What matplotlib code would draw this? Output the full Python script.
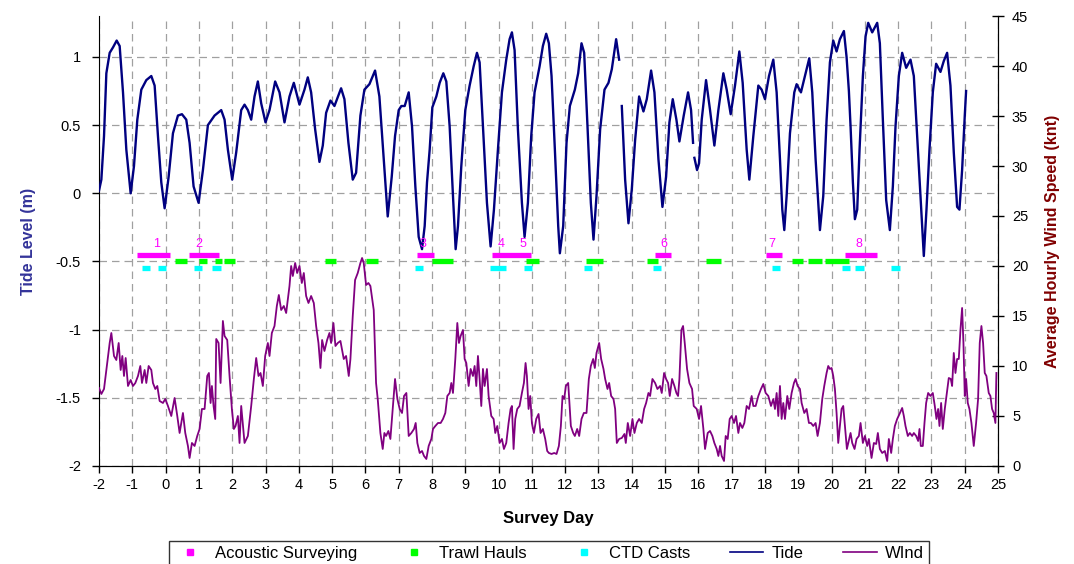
import numpy as np
import matplotlib
matplotlib.use('Agg')
import matplotlib.pyplot as plt
from matplotlib.lines import Line2D
from matplotlib.ticker import FuncFormatter

plt.rcParams['font.family'] = ['Liberation Sans', 'DejaVu Sans']
plt.rcParams['axes.unicode_minus'] = False

# tide level (m)
tide_day = [-2.0, -1.93, -1.85, -1.78, -1.68, -1.58, -1.47, -1.38, -1.28, -1.18, -1.05, -0.95, -0.85, -0.73,
            -0.58, -0.43, -0.33, -0.23, -0.13, -0.03, 0.09, 0.22, 0.37, 0.49, 0.62, 0.72, 0.84, 0.99, 1.12,
            1.27, 1.47, 1.67, 1.77, 1.87, 2.00, 2.12, 2.27, 2.37, 2.47, 2.57, 2.67, 2.77, 2.87, 3.00, 3.12,
            3.29, 3.42, 3.57, 3.72, 3.85, 4.02, 4.17, 4.27, 4.37, 4.49, 4.62, 4.72, 4.82, 4.95, 5.07, 5.27,
            5.37, 5.49, 5.62, 5.72, 5.85, 5.97, 6.12, 6.29, 6.42, 6.55, 6.67, 6.79, 6.89, 7.00, 7.08, 7.18,
            7.30, 7.40, 7.50, 7.60, 7.70, 7.78, 7.85, 7.93, 8.01, 8.13, 8.23, 8.34, 8.43, 8.53, 8.63, 8.71,
            8.78, 8.88, 9.00, 9.13, 9.25, 9.35, 9.43, 9.53, 9.65, 9.76, 9.86, 9.98, 10.10, 10.23, 10.33,
            10.40, 10.48, 10.58, 10.70, 10.78, 10.88, 10.98, 11.08, 11.23, 11.33, 11.43, 11.51, 11.59, 11.69,
            11.79, 11.84, 11.94, 12.04, 12.14, 12.29, 12.39, 12.49, 12.57, 12.67, 12.77, 12.85, 12.94, 13.05,
            13.18, 13.30, 13.40, 13.53, 13.62, 13.66, 13.70, 13.80, 13.90, 14.00, 14.10, 14.22, 14.35, 14.45,
            14.58, 14.68, 14.80, 14.92, 15.03, 15.13, 15.23, 15.34, 15.43, 15.56, 15.69, 15.78, 15.84, 15.86,
            15.88, 15.96, 16.02, 16.10, 16.23, 16.35, 16.48, 16.60, 16.75, 16.85, 16.97, 17.10, 17.23, 17.33,
            17.45, 17.53, 17.65, 17.80, 17.90, 18.00, 18.12, 18.25, 18.35, 18.45, 18.52, 18.58, 18.65, 18.75,
            18.88, 18.95, 19.08, 19.20, 19.33, 19.42, 19.52, 19.65, 19.75, 19.85, 19.95, 20.05, 20.15, 20.25,
            20.37, 20.45, 20.52, 20.57, 20.64, 20.70, 20.77, 20.84, 20.94, 21.02, 21.10, 21.22, 21.37, 21.45,
            21.54, 21.64, 21.75, 21.84, 21.92, 22.02, 22.12, 22.24, 22.37, 22.47, 22.57, 22.67, 22.77, 22.85,
            22.94, 23.04, 23.14, 23.27, 23.37, 23.47, 23.57, 23.67, 23.77, 23.84, 23.92, 24.00, 24.04]
tide_m = [0.02, 0.10, 0.42, 0.88, 1.03, 1.07, 1.12, 1.08, 0.74, 0.32, 0.00, 0.20, 0.54, 0.76,
          0.83, 0.86, 0.79, 0.42, 0.08, -0.11, 0.12, 0.44, 0.57, 0.58, 0.54, 0.37, 0.05, -0.07, 0.17,
          0.50, 0.57, 0.61, 0.54, 0.32, 0.10, 0.30, 0.61, 0.65, 0.61, 0.54, 0.71, 0.82, 0.66, 0.52, 0.61,
          0.82, 0.74, 0.52, 0.71, 0.81, 0.65, 0.76, 0.85, 0.74, 0.47, 0.23, 0.35, 0.59, 0.68, 0.64, 0.77,
          0.69, 0.37, 0.10, 0.15, 0.57, 0.76, 0.80, 0.90, 0.71, 0.25, -0.17, 0.12, 0.42, 0.61, 0.64, 0.64,
          0.74, 0.49, 0.05, -0.32, -0.41, -0.24, 0.08, 0.32, 0.63, 0.71, 0.81, 0.88, 0.82, 0.49, -0.02, -0.41,
          -0.24, 0.20, 0.61, 0.79, 0.93, 1.03, 0.96, 0.49, -0.07, -0.39, -0.12, 0.32, 0.74, 0.98, 1.13,
          1.18, 1.05, 0.47, -0.07, -0.32, -0.07, 0.42, 0.74, 0.93, 1.08, 1.17, 1.10, 0.86, 0.32,
          -0.24, -0.44, -0.24, 0.37, 0.64, 0.76, 0.88, 1.10, 1.03, 0.49, -0.07, -0.34, -0.02, 0.47,
          0.76, 0.81, 0.91, 1.13, 0.98, np.nan, 0.64, 0.10, -0.22, 0.03, 0.39, 0.71, 0.60, 0.69,
          0.90, 0.74, 0.25, -0.10, 0.12, 0.52, 0.69, 0.54, 0.38, 0.57, 0.74, 0.61, 0.37, np.nan,
          0.26, 0.17, 0.22, 0.54, 0.83, 0.61, 0.35, 0.61, 0.88, 0.76, 0.58, 0.79, 1.04, 0.81,
          0.32, 0.10, 0.42, 0.79, 0.76, 0.69, 0.86, 0.98, 0.74, 0.25, -0.12, -0.27, -0.02, 0.44,
          0.74, 0.80, 0.74, 0.86, 0.99, 0.74, 0.25, -0.27, -0.02, 0.54, 0.96, 1.12, 1.04, 1.13,
          1.19, 1.00, 0.75, 0.49, 0.08, -0.19, -0.12, 0.32, 0.86, 1.15, 1.25, 1.18, 1.25, 1.10,
          0.54, -0.05, -0.27, 0.05, 0.49, 0.86, 1.03, 0.92, 0.98, 0.86, 0.42, -0.02, -0.46, -0.12,
          0.32, 0.74, 0.95, 0.89, 0.97, 1.03, 0.79, 0.30, -0.10, -0.12, 0.17, 0.57, 0.75]

# average hourly wind speed (knots)
wind_day = [-2.00, -1.93, -1.85, -1.78, -1.68, -1.63, -1.55, -1.48, -1.41, -1.35, -1.30, -1.25, -1.20, -1.13,
            -1.05, -0.98, -0.91, -0.83, -0.76, -0.71, -0.63, -0.58, -0.51, -0.43, -0.38, -0.31, -0.25, -0.18,
            -0.08, -0.01, 0.07, 0.17, 0.27, 0.35, 0.42, 0.52, 0.59, 0.67, 0.72, 0.79, 0.87, 0.95, 1.02, 1.09,
            1.17, 1.25, 1.30, 1.35, 1.39, 1.44, 1.49, 1.52, 1.59, 1.65, 1.72, 1.77, 1.85, 1.92, 1.99, 2.05,
            2.10, 2.17, 2.22, 2.27, 2.37, 2.47, 2.57, 2.65, 2.72, 2.79, 2.85, 2.92, 2.99, 3.07, 3.12, 3.19,
            3.27, 3.34, 3.40, 3.47, 3.55, 3.62, 3.72, 3.77, 3.82, 3.89, 3.95, 4.02, 4.09, 4.15, 4.22, 4.29,
            4.37, 4.45, 4.52, 4.59, 4.65, 4.70, 4.77, 4.85, 4.92, 4.97, 5.04, 5.10, 5.17, 5.25, 5.35, 5.42,
            5.50, 5.55, 5.62, 5.69, 5.77, 5.85, 5.90, 5.95, 6.02, 6.09, 6.15, 6.25, 6.32, 6.37, 6.45, 6.52,
            6.57, 6.62, 6.69, 6.75, 6.82, 6.89, 6.96, 7.03, 7.10, 7.16, 7.23, 7.30, 7.38, 7.46, 7.51, 7.56,
            7.63, 7.70, 7.76, 7.83, 7.90, 7.98, 8.03, 8.10, 8.18, 8.26, 8.33, 8.40, 8.46, 8.53, 8.58, 8.63,
            8.70, 8.76, 8.81, 8.86, 8.93, 8.98, 9.03, 9.10, 9.16, 9.23, 9.28, 9.33, 9.38, 9.43, 9.48, 9.53,
            9.58, 9.65, 9.70, 9.78, 9.85, 9.90, 9.96, 10.03, 10.10, 10.16, 10.23, 10.30, 10.36, 10.40, 10.45,
            10.50, 10.56, 10.63, 10.70, 10.76, 10.81, 10.85, 10.90, 10.95, 11.00, 11.06, 11.13, 11.20, 11.26,
            11.33, 11.40, 11.46, 11.51, 11.59, 11.67, 11.74, 11.81, 11.87, 11.92, 11.97, 12.02, 12.09, 12.17,
            12.24, 12.29, 12.36, 12.42, 12.49, 12.56, 12.64, 12.71, 12.77, 12.84, 12.89, 12.94, 13.02, 13.08,
            13.15, 13.20, 13.27, 13.32, 13.38, 13.45, 13.50, 13.55, 13.62, 13.70, 13.78, 13.82, 13.88, 13.95,
            14.02, 14.08, 14.15, 14.22, 14.30, 14.37, 14.43, 14.50, 14.55, 14.62, 14.70, 14.77, 14.85, 14.90,
            14.97, 15.03, 15.09, 15.14, 15.21, 15.28, 15.34, 15.39, 15.43, 15.49, 15.54, 15.59, 15.66, 15.73,
            15.81, 15.86, 15.95, 16.02, 16.08, 16.15, 16.20, 16.28, 16.35, 16.42, 16.48, 16.55, 16.60, 16.65,
            16.70, 16.77, 16.82, 16.88, 16.94, 17.00, 17.07, 17.13, 17.20, 17.25, 17.32, 17.38, 17.45, 17.52,
            17.60, 17.65, 17.72, 17.80, 17.88, 17.95, 18.02, 18.10, 18.18, 18.25, 18.30, 18.35, 18.40, 18.45,
            18.50, 18.55, 18.60, 18.67, 18.73, 18.80, 18.87, 18.92, 18.98, 19.05, 19.10, 19.18, 19.25, 19.32,
            19.38, 19.45, 19.52, 19.58, 19.65, 19.72, 19.78, 19.85, 19.90, 19.95, 20.00, 20.05, 20.10, 20.15,
            20.20, 20.25, 20.30, 20.35, 20.40, 20.46, 20.57, 20.62, 20.69, 20.75, 20.82, 20.87, 20.94, 21.00,
            21.07, 21.12, 21.20, 21.27, 21.34, 21.39, 21.45, 21.52, 21.60, 21.67, 21.72, 21.79, 21.84, 21.90,
            21.97, 22.04, 22.12, 22.17, 22.22, 22.29, 22.35, 22.42, 22.47, 22.54, 22.60, 22.64, 22.68, 22.74,
            22.79, 22.84, 22.90, 22.97, 23.04, 23.10, 23.15, 23.20, 23.24, 23.29, 23.34, 23.40, 23.45, 23.52,
            23.58, 23.62, 23.67, 23.72, 23.77, 23.82, 23.87, 23.92, 23.96, 24.00, 24.04, 24.09, 24.14, 24.20,
            24.27, 24.34, 24.40, 24.45, 24.50, 24.55, 24.60, 24.65, 24.72, 24.77, 24.82, 24.87, 24.92, 24.95]
wind_knt = [7.8, 7.2, 7.7, 9.6, 12.3, 13.3, 11.0, 10.6, 12.3, 9.6, 11.0, 9.0, 10.8, 8.0,
            8.6, 8.0, 8.3, 9.0, 10.0, 8.3, 9.6, 8.3, 10.0, 9.6, 8.3, 7.7, 8.0, 6.5,
            6.3, 6.7, 6.0, 5.0, 6.8, 5.0, 3.3, 5.3, 3.3, 2.0, 0.8, 2.3, 2.0, 3.0, 3.7, 5.7,
            5.7, 9.0, 9.3, 6.3, 8.0, 6.0, 4.7, 12.7, 12.3, 8.3, 14.5, 13.0, 12.6, 9.0, 5.7, 3.7,
            4.0, 5.0, 2.3, 6.0, 2.3, 3.0, 6.0, 8.7, 10.8, 9.0, 9.3, 8.0, 11.0, 12.3, 11.0, 13.3,
            14.0, 16.0, 17.1, 15.6, 16.0, 15.3, 18.0, 20.0, 19.0, 20.3, 19.3, 20.0, 18.3, 19.3, 17.0, 16.3,
            17.0, 16.3, 14.0, 12.3, 9.8, 12.6, 11.5, 12.6, 13.3, 12.3, 14.3, 12.0, 12.3, 12.5, 10.7, 11.0,
            9.0, 10.7, 15.0, 18.6, 19.3, 20.3, 20.8, 20.3, 18.1, 18.3, 18.0, 15.6, 8.3, 6.7, 3.3, 1.7,
            3.3, 3.0, 3.5, 2.7, 5.7, 8.7, 6.7, 5.7, 5.3, 7.0, 7.3, 3.0, 3.3, 3.7, 4.3, 2.3,
            1.3, 1.5, 1.0, 0.7, 2.0, 2.7, 3.7, 4.0, 4.3, 4.3, 4.7, 5.3, 7.0, 7.3, 8.3, 7.3,
            10.7, 14.3, 12.3, 13.0, 13.6, 10.7, 10.3, 8.0, 9.7, 9.0, 10.0, 8.0, 11.0, 8.7, 6.0, 9.7,
            8.0, 9.7, 7.0, 5.0, 4.7, 3.3, 4.0, 2.3, 2.7, 1.7, 2.3, 4.3, 5.7, 6.0, 1.7,
            4.7, 5.7, 6.0, 7.3, 8.3, 10.3, 9.0, 5.7, 7.0, 4.3, 3.3, 4.7, 5.2, 3.3,
            3.7, 2.7, 1.5, 1.3, 1.2, 1.3, 1.2, 2.0, 4.0, 7.0, 6.7, 8.0, 8.3, 4.0,
            3.3, 3.0, 3.7, 3.0, 4.7, 5.3, 5.3, 8.7, 10.0, 10.7, 9.8, 11.3, 12.3, 10.7,
            9.7, 8.7, 7.7, 8.3, 7.0, 6.7, 5.7, 2.3, 2.7, 2.8, 3.2, 2.3, 4.3, 3.0,
            4.7, 3.3, 4.3, 4.7, 4.3, 5.7, 6.3, 7.3, 7.0, 8.7, 8.3, 7.7, 8.0, 7.3,
            9.3, 8.7, 8.3, 7.0, 8.7, 8.0, 7.3, 7.0, 8.7, 13.6, 14.0, 12.3, 9.7, 8.3,
            7.7, 6.0, 5.7, 4.7, 6.0, 3.7, 1.7, 3.3, 3.5, 3.0, 2.3, 1.7, 1.0, 2.0,
            1.0, 0.5, 3.0, 2.7, 4.7, 5.0, 4.3, 5.0, 3.3, 4.3, 3.8, 4.3, 6.0, 5.7,
            7.0, 6.0, 6.0, 7.0, 7.7, 8.2, 7.3, 7.0, 6.0, 6.7, 5.7, 7.3, 5.0, 8.0,
            4.7, 6.3, 4.7, 7.0, 5.7, 7.3, 8.3, 8.7, 8.0, 7.7, 6.3, 5.3, 5.7, 4.3,
            4.3, 4.0, 4.3, 3.0, 4.3, 6.7, 8.0, 9.3, 10.0, 9.7, 9.8, 9.0, 7.7, 5.3,
            2.3, 4.0, 5.7, 6.0, 4.0, 1.7, 3.3, 2.3, 1.7, 2.7, 3.0, 4.3, 2.3, 3.0,
            2.0, 2.7, 0.8, 2.3, 2.2, 3.3, 1.7, 1.3, 1.5, 0.5, 2.7, 1.3, 2.7, 4.0,
            4.7, 5.2, 5.8, 5.0, 4.0, 3.0, 3.3, 3.0, 3.3, 3.0, 2.5, 3.7, 2.0, 2.0,
            4.3, 6.3, 7.3, 7.0, 7.3, 6.0, 4.7, 5.7, 4.0, 6.3, 3.7, 5.7, 7.0, 8.8,
            8.7, 8.0, 11.3, 9.3, 10.7, 10.7, 13.6, 15.8, 12.3, 7.0, 8.7, 6.3, 5.7, 4.3,
            2.0, 4.3, 6.7, 12.3, 14.0, 12.3, 9.3, 9.0, 7.3, 7.0, 5.7, 5.3, 4.3, 9.3]

# survey activities: (start day, end day)
acoustic = [(-0.85, 0.13), (0.70, 1.60), (7.54, 8.06), (9.80, 10.96), (14.70, 15.17), (18.03, 18.50), (20.41, 21.37)]
acoustic_labels = ['1', '2', '3', '4', '5', '6', '7', '8']
acoustic_label_day = [-0.27, 1.01, 7.72, 10.08, 10.72, 14.95, 18.20, 20.83]
trawl = [(0.29, 0.63), (1.01, 1.23), (1.48, 1.68), (1.75, 2.08), (4.79, 5.12), (6.02, 6.39), (8.01, 8.64),
         (10.82, 11.22), (12.62, 13.14), (14.46, 14.78), (16.24, 16.68), (18.82, 19.13), (19.28, 19.70),
         (19.81, 20.51)]
ctd = [(-0.71, -0.47), (-0.23, 0.01), (0.85, 1.08), (1.40, 1.65), (7.50, 7.74), (9.75, 10.21), (10.76, 11.01),
       (12.56, 12.81), (14.63, 14.87), (18.20, 18.44), (20.30, 20.54), (20.71, 20.96), (21.78, 22.04)]
acoustic_level, trawl_level, ctd_level = -0.45, -0.5, -0.55

fig = plt.figure(figsize=(10.74, 5.64), dpi=100)
ax = fig.add_axes([0.0922, 0.1738, 0.8371, 0.7978])
ax2 = ax.twinx()

ax.plot(tide_day, tide_m, color='#000080', lw=1.7, zorder=3)
for (a, b) in acoustic:
    ax.plot([a, b], [acoustic_level] * 2, color='#FF00FF', lw=3.8, solid_capstyle='butt', zorder=4)
for (a, b) in trawl:
    ax.plot([a, b], [trawl_level] * 2, color='#00FF00', lw=3.8, solid_capstyle='butt', zorder=4)
for (a, b) in ctd:
    ax.plot([a, b], [ctd_level] * 2, color='#00FFFF', lw=3.8, solid_capstyle='butt', zorder=4)
for lab, d in zip(acoustic_labels, acoustic_label_day):
    ax.text(d, acoustic_level + 0.035, lab, color='#FF00FF', fontsize=9, ha='center', va='bottom', zorder=5)

ax2.plot(wind_day, wind_knt, color='#800080', lw=1.3)

ax.set_xlim(-2, 25)
ax.set_ylim(-2, 1.3)
ax.set_xticks(range(-2, 26))
ax.set_yticks(np.arange(-2, 1.01, 0.5))
ax.yaxis.set_major_formatter(FuncFormatter(lambda v, p: '%g' % v))
ax2.set_ylim(0, 45)
ax2.set_yticks(range(0, 46, 5))

ax.grid(True, color='#a0a0a0', linestyle=(0, (6, 4)), linewidth=0.9)
ax.set_axisbelow(True)
for a in (ax, ax2):
    a.spines['top'].set_visible(False)
ax2.spines['left'].set_visible(False)
ax.tick_params(axis='both', labelsize=10.5, direction='out', length=5, width=1, colors='black')
ax.tick_params(axis='y', pad=8)
ax2.tick_params(axis='y', labelsize=10.5, direction='inout', length=8, width=1, pad=6)

ax.set_ylabel('Tide Level (m)', fontsize=11.5, fontweight='bold', color='#333399', labelpad=14)
ax2.set_ylabel('Average Hourly Wind Speed (knt)', fontsize=11.5, fontweight='bold', color='#800000', labelpad=12)
ax.set_xlabel('Survey Day', fontsize=12, fontweight='bold', labelpad=14)

handles = [Line2D([], [], ls='none', marker='s', ms=4, color='#FF00FF'),
           Line2D([], [], ls='none', marker='s', ms=4, color='#00FF00'),
           Line2D([], [], ls='none', marker='s', ms=4, color='#00FFFF'),
           Line2D([], [], color='#000080', lw=1.2),
           Line2D([], [], color='#800080', lw=1.2)]
leg = fig.legend(handles, ['Acoustic Surveying', 'Trawl Hauls', 'CTD Casts', 'Tide', 'WInd'],
                 loc='lower center', bbox_to_anchor=(0.511, -0.004), ncol=5, fontsize=12,
                 frameon=True, fancybox=False, edgecolor='black', handlelength=2.0,
                 handletextpad=0.5, columnspacing=2.4, borderpad=0.3, borderaxespad=0.0)
leg.get_frame().set_linewidth(1.0)

fig.savefig('out.png', dpi=100)
